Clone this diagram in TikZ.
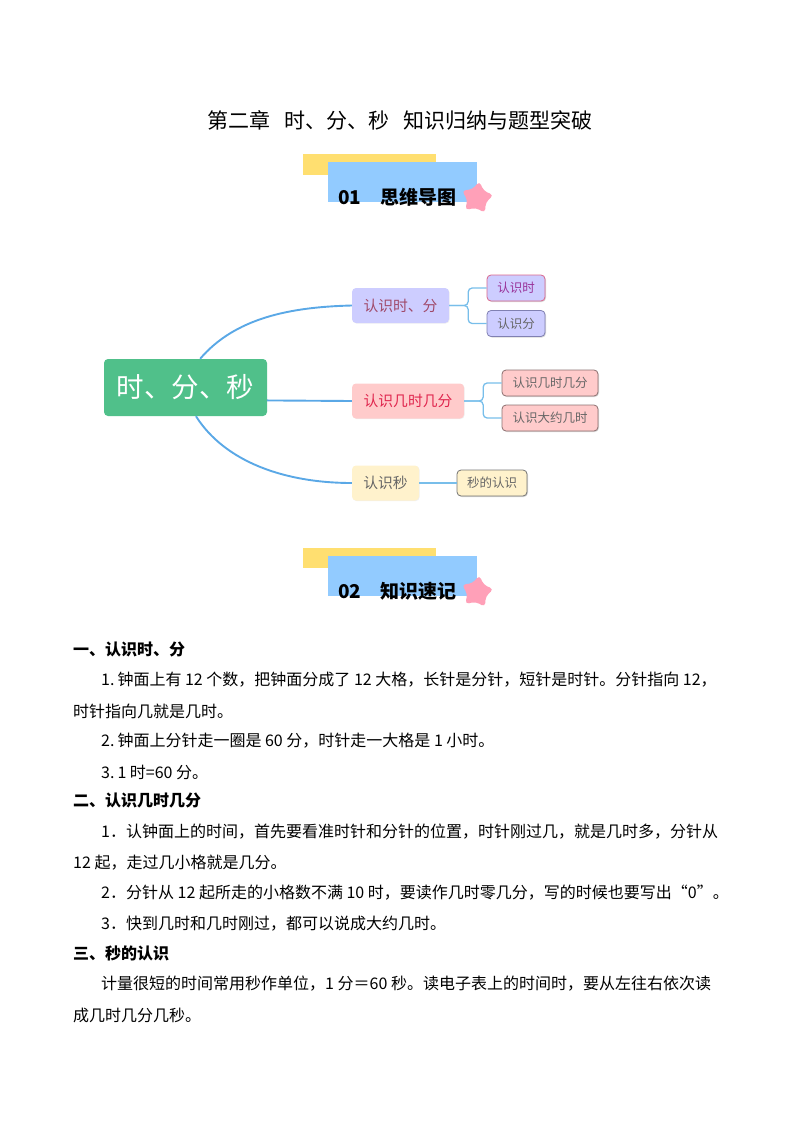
\documentclass[tikz,border=0pt]{standalone}
\usepackage{fontspec}
\setmainfont{Noto Sans CJK SC}
\usetikzlibrary{shapes.geometric,shadows}
\newcommand{\zhcomma}{^^^^ff0c}
\newcommand{\zhdot}{^^^^ff0e}
\newcommand{\zheq}{^^^^ff1d}
\definecolor{bandyellow}{HTML}{FFDF70}
\definecolor{bandblue}{HTML}{92CBFF}
\definecolor{starpink}{HTML}{FFA0B8}
\definecolor{rootgreen}{HTML}{50C08A}
\definecolor{wireblue}{HTML}{5AA8E6}
\definecolor{twigblue}{HTML}{78BEEA}
\definecolor{lilac}{HTML}{CDCDFF}
\definecolor{rose}{HTML}{FFCBCB}
\definecolor{cream}{HTML}{FFF2CC}
\definecolor{plum}{HTML}{A04A6A}
\definecolor{crimson}{HTML}{E0264E}
\tikzset{
  headtext/.style={anchor=west,font=\fontsize{19}{21}\selectfont\bfseries,inner sep=0pt},
  headstar/.style={star,star points=5,star point ratio=1.75,minimum size=34pt,inner sep=0pt,fill=starpink,rounded corners=4pt,rotate=-8},
  branch/.style={rounded corners=4pt,minimum height=35pt,inner sep=0pt,font=\fontsize{14.8}{16}\selectfont,drop shadow={shadow xshift=.6pt,shadow yshift=-.6pt,opacity=.12}},
  leaf/.style={draw,rounded corners=4pt,line width=.8pt,minimum height=26pt,inner sep=0pt,font=\fontsize{12.5}{14}\selectfont,drop shadow={shadow xshift=1pt,shadow yshift=-1pt,opacity=.3}},
  wire/.style={wireblue,line width=1.9pt},
  twig/.style={twigblue,line width=1.3pt,rounded corners=4pt},
  bodyline/.style={anchor=west,inner sep=0pt,yshift=-1pt,font=\fontsize{16}{18}\selectfont},
  bodyhead/.style={anchor=west,inner sep=0pt,font=\fontsize{16}{18}\selectfont\bfseries}
}
\begin{document}
\begin{tikzpicture}[x=1pt,y=-1pt]
\useasboundingbox (0,0) rectangle (800,1132);

\node[anchor=center,inner sep=0pt,font=\fontsize{21}{24}\selectfont] (title) at (400,120) {第二章\hspace{14pt}时、分、秒\hspace{14pt}知识归纳与题型突破};

\fill[bandyellow] (303,154) rectangle (436,175);
\fill[bandblue] (328,162) rectangle (477,202);
\node[headstar] (starA) at (477,198) {};
\node[headtext] (headA) at (338,197) {01\hspace{19pt}思维导图};

\node[fill=rootgreen,rounded corners=4pt,minimum width=163pt,minimum height=57pt,inner sep=0pt,text=white,font=\fontsize{27.5}{30}\selectfont] (root) at (185.5,387.5) {\raisebox{-1.5pt}{时、分、秒}};

\node[branch,fill=lilac,minimum width=97pt,text=plum] (subA) at (400.5,305.5) {认识时、分};
\node[branch,fill=rose,minimum width=112pt,text=crimson] (subB) at (408,401) {认识几时几分};
\node[branch,fill=cream,minimum width=67pt,text=black!60] (subC) at (385.5,483) {认识秒};

\node[leaf,fill=lilac,draw=purple!60,minimum width=58pt,text=violet!80] (leafA) at (516,288) {认识时};
\node[leaf,fill=lilac,draw=blue!40!black!50,minimum width=58pt,text=black!60] (leafB) at (516,323.5) {认识分};
\node[leaf,fill=rose,draw=black!45!rose,minimum width=96pt,text=black!60] (leafC) at (550,383) {认识几时几分};
\node[leaf,fill=rose,draw=black!45!rose,minimum width=96pt,text=black!60] (leafD) at (550,418) {认识大约几时};
\node[leaf,fill=cream,draw=black!55,minimum width=70pt,text=black!60] (leafE) at (492,483) {秒的认识};

\draw[wire] (root.63) .. controls (235,318) and (290,307) .. (subA.west);
\draw[wire] (root.-9) -- (subB.west);
\draw[wire] (root.-70) .. controls (225,462) and (285,483) .. (subC.west);

\draw[twig] (subA.east) -- ++(19,0) |- (leafA.west);
\draw[twig] (subA.east) -- ++(19,0) |- (leafB.west);
\draw[twig] (subB.east) -- ++(19,0) |- (leafC.west);
\draw[twig] (subB.east) -- ++(19,0) |- (leafD.west);
\draw[twig] (subC.east) -- (leafE.west);

\fill[bandyellow] (303,548) rectangle (436,568);
\fill[bandblue] (328,556) rectangle (477,596);
\node[headstar] (starB) at (477,592) {};
\node[headtext] (headB) at (338,591) {02\hspace{19pt}知识速记};

\node[bodyhead] (lineA) at (73,649) {一、认识时、分};
\node[bodyline] (lineB) at (101,679) {1.\hspace{3pt}钟面上有 12 个数\zhcomma{}把钟面分成了 12 大格\zhcomma{}长针是分针\zhcomma{}短针是时针。分针指向 12\zhcomma};
\node[bodyline] (lineC) at (73,710) {时针指向几就是几时。};
\node[bodyline] (lineD) at (101,740) {2.\hspace{3pt}钟面上分针走一圈是 60 分\zhcomma{}时针走一大格是 1 小时。};
\node[bodyline] (lineE) at (101,771) {3.\hspace{3pt}1 时=60 分。};
\node[bodyhead] (lineF) at (73,801) {二、认识几时几分};
\node[bodyline] (lineG) at (101,831) {1\zhdot{}认钟面上的时间\zhcomma{}首先要看准时针和分针的位置\zhcomma{}时针刚过几\zhcomma{}就是几时多\zhcomma{}分针从};
\node[bodyline] (lineH) at (73,862) {12 起\zhcomma{}走过几小格就是几分。};
\node[bodyline] (lineI) at (101,892) {2\zhdot{}分针从 12 起所走的小格数不满 10 时\zhcomma{}要读作几时零几分\zhcomma{}写的时候也要写出“0”。};
\node[bodyline] (lineJ) at (101,923) {3\zhdot{}快到几时和几时刚过\zhcomma{}都可以说成大约几时。};
\node[bodyhead] (lineK) at (73,953) {三、秒的认识};
\node[bodyline] (lineL) at (101,983) {计量很短的时间常用秒作单位\zhcomma{}1 分\zheq{}60 秒。读电子表上的时间时\zhcomma{}要从左往右依次读};
\node[bodyline] (lineM) at (73,1014) {成几时几分几秒。};
\end{tikzpicture}
\end{document}
